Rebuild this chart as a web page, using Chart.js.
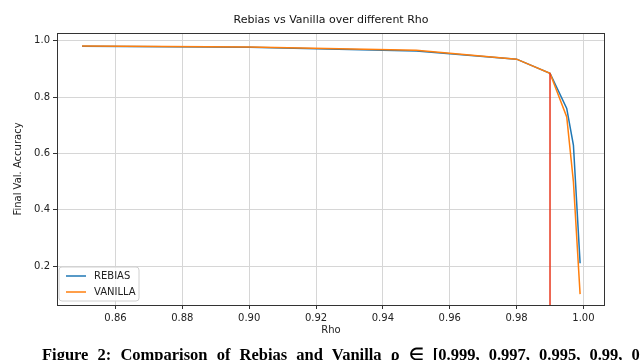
<!DOCTYPE html>
<html><head><meta charset="utf-8">
<script src="https://cdn.jsdelivr.net/npm/chart.js@4.4.1/dist/chart.umd.min.js"></script>
<style>
html,body{margin:0;padding:0;background:#fff;overflow:hidden;width:640px;height:360px}
#wrap{position:relative;width:640px;height:360px;overflow:hidden}
#cap{position:absolute;left:42px;top:345px;font-family:'Liberation Serif',serif;font-size:16.5px;white-space:nowrap;color:#000;font-weight:bold;word-spacing:5px}
</style></head><body>
<div id="wrap"><canvas id="c" width="640" height="360"></canvas>
<div id="cap">Figure 2: Comparison of Rebias and Vanilla ρ ∈ [0.999, 0.997, 0.995, 0.99, 0.98</div></div>
<script>
const rho     = [0.85, 0.90, 0.95, 0.98, 0.99, 0.995, 0.997, 0.999];
const rebias  = [0.981, 0.977, 0.964, 0.935, 0.885, 0.76, 0.63, 0.21];
const vanilla = [0.982, 0.978, 0.967, 0.935, 0.885, 0.73, 0.50, 0.10];
const markerX = [0.99, 0.99];
const markerY = [0.885, 0.0];
const xTicks  = [0.86, 0.88, 0.90, 0.92, 0.94, 0.96, 0.98, 1.00];
const yTicks  = [0.2, 0.4, 0.6, 0.8, 1.0];
const seriesNames = ['REBIAS', 'VANILLA'];
const titleText = 'Rebias vs Vanilla over different Rho';

const FONT = "'DejaVu Sans', sans-serif";
const BLUE = '#1f77b4', ORANGE = '#ff7f0e', RED = 'rgb(232,56,30)';

const pts = (xs, ys) => xs.map((x, i) => ({x, y: ys[i]}));

const decor = {
  id: 'decor',
  afterDraw(chart) {
    const {ctx, chartArea: a} = chart;
    ctx.save();
    ctx.strokeStyle = '#333';
    ctx.lineWidth = 1;
    ctx.strokeRect(Math.round(a.left) + 0.5, Math.round(a.top) + 0.5,
                   Math.round(a.right - a.left) - 1, Math.round(a.bottom - a.top));
    ctx.fillStyle = '#111';
    ctx.font = '11px ' + FONT;
    ctx.textAlign = 'center';
    ctx.textBaseline = 'middle';
    ctx.fillText(titleText, (a.left + a.right) / 2, 20);
    const lx = a.left + 2, ly = a.bottom - 38, lw = 80, lh = 34, r = 3;
    ctx.beginPath();
    ctx.moveTo(lx + r, ly);
    ctx.arcTo(lx + lw, ly, lx + lw, ly + lh, r);
    ctx.arcTo(lx + lw, ly + lh, lx, ly + lh, r);
    ctx.arcTo(lx, ly + lh, lx, ly, r);
    ctx.arcTo(lx, ly, lx + lw, ly, r);
    ctx.closePath();
    ctx.fillStyle = 'rgba(255,255,255,0.85)';
    ctx.fill();
    ctx.strokeStyle = '#d0d0d0';
    ctx.stroke();
    const cols = [BLUE, ORANGE];
    seriesNames.forEach((n, i) => {
      const y = ly + 9 + i * 16;
      ctx.strokeStyle = cols[i];
      ctx.lineWidth = 1.5;
      ctx.beginPath();
      ctx.moveTo(lx + 7, y);
      ctx.lineTo(lx + 27, y);
      ctx.stroke();
      ctx.fillStyle = '#222';
      ctx.font = '10px ' + FONT;
      ctx.textAlign = 'left';
      ctx.fillText(n, lx + 35, y + 0.5);
    });
    ctx.restore();
  }
};

new Chart(document.getElementById('c'), {
  type: 'line',
  data: {
    datasets: [
      {label: seriesNames[0], data: pts(rho, rebias), borderColor: BLUE, borderWidth: 1.5, pointRadius: 0, tension: 0, order: 2},
      {label: seriesNames[1], data: pts(rho, vanilla), borderColor: ORANGE, borderWidth: 1.5, pointRadius: 0, tension: 0, order: 1},
      {label: 'rho', data: pts(markerX, markerY), borderColor: RED, borderWidth: 1.5, pointRadius: 0, tension: 0, order: 0}
    ]
  },
  options: {
    responsive: false,
    animation: false,
    layout: {padding: {top: 33, right: 35, left: 0, bottom: 0}},
    plugins: {legend: {display: false}, tooltip: {enabled: false}, title: {display: false}},
    scales: {
      x: {
        type: 'linear', min: 0.8425, max: 1.00645,
        afterBuildTicks: s => { s.ticks = xTicks.map(v => ({value: v})); },
        afterFit: s => { s.height = 55; },
        ticks: {callback: v => v.toFixed(2), font: {family: FONT, size: 10}, color: '#222', padding: 3, maxRotation: 0, autoSkip: false},
        grid: {color: '#d6d6d6', tickColor: '#333', tickLength: 4, lineWidth: 1},
        border: {display: false},
        title: {display: true, text: 'Rho', font: {family: FONT, size: 10}, color: '#222', padding: {top: 0, bottom: 24}}
      },
      y: {
        type: 'linear', min: 0.0615, max: 1.028,
        afterBuildTicks: s => { s.ticks = yTicks.map(v => ({value: v})); },
        afterFit: s => { s.width = 57; },
        ticks: {callback: v => v.toFixed(1), font: {family: FONT, size: 10}, color: '#222', padding: 3, autoSkip: false},
        grid: {color: '#d6d6d6', tickColor: '#333', tickLength: 4, lineWidth: 1},
        border: {display: false},
        title: {display: true, text: 'Final Val. Accuracy', font: {family: FONT, size: 10}, color: '#222', padding: {top: 12, bottom: 0}}
      }
    }
  },
  plugins: [decor]
});
</script>
</body></html>
